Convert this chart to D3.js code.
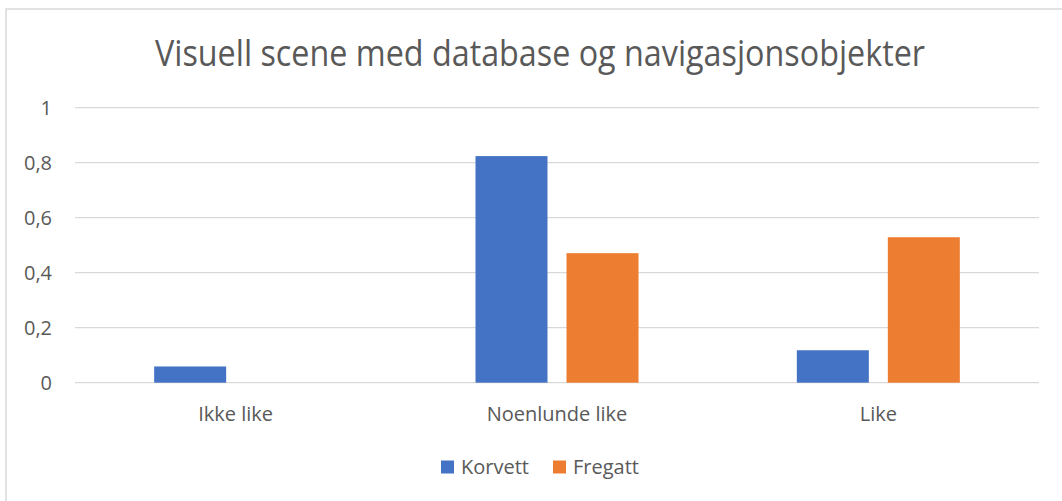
<!DOCTYPE html>
<html>
<head>
<meta charset="utf-8">
<script src="https://cdn.jsdelivr.net/npm/d3@7"></script>
<style>
  body { margin: 0; background: #fff; }
  text { font-family: "Open Sans", sans-serif; fill: #595959; }
</style>
</head>
<body>
<div id="chart"></div>
<script>
// data
const categories = ["Ikke like", "Noenlunde like", "Like"];
const seriesNames = ["Korvett", "Fregatt"];
const korvett = [0.059, 0.824, 0.118];
const fregatt = [0, 0.471, 0.529];
const yTicks = [0, 0.2, 0.4, 0.6, 0.8, 1];
const colors = ["#4472c4", "#ed7d31"];

const W = 1062, H = 501;
const margin = {top: 108, right: 23, bottom: 118, left: 75};

const svg = d3.select("#chart").append("svg")
    .attr("width", W)
    .attr("height", H);

// chart frame (runs off right/bottom like the screenshot)
svg.append("rect")
    .attr("x", 6).attr("y", 9)
    .attr("width", W + 10).attr("height", H + 10)
    .attr("fill", "none")
    .attr("stroke", "#d9d9d9")
    .attr("stroke-width", 1.5);

svg.append("text")
    .attr("x", 540).attr("y", 66)
    .attr("text-anchor", "middle")
    .attr("font-size", 36)
    .attr("textLength", 770)
    .attr("lengthAdjust", "spacingAndGlyphs")
    .text("Visuell scene med database og navigasjonsobjekter");

const plotW = W - margin.left - margin.right;
const y = d3.scaleLinear().domain([0, 1]).range([382.7, 107.7]);

const x0 = d3.scaleBand().domain(categories)
    .range([margin.left, margin.left + plotW]);
const groupPad = (x0.bandwidth() - 163) / 2;
const x1 = d3.scaleBand().domain(seriesNames)
    .range([0, 163]).paddingInner(19 / 91);

// gridlines
svg.append("g")
    .selectAll("line")
    .data(yTicks)
    .join("line")
    .attr("x1", margin.left).attr("x2", margin.left + plotW)
    .attr("y1", d => y(d)).attr("y2", d => y(d))
    .attr("stroke", "#d9d9d9")
    .attr("stroke-width", 1.3);

// y tick labels
svg.append("g")
    .selectAll("text")
    .data(yTicks)
    .join("text")
    .attr("x", 52)
    .attr("y", d => y(d) + 7)
    .attr("text-anchor", "end")
    .attr("font-size", 20)
    .text(d => String(d).replace(".", ","));

// bars
const rows = categories.map((c, i) => ({cat: c, vals: [korvett[i], fregatt[i]]}));
const groups = svg.append("g")
    .selectAll("g")
    .data(rows)
    .join("g")
    .attr("transform", d => `translate(${x0(d.cat) + groupPad},0)`);

groups.selectAll("rect")
    .data(d => d.vals.map((v, k) => ({name: seriesNames[k], v: v, k: k})))
    .join("rect")
    .filter(d => d.v > 0)
    .attr("x", d => x1(d.name))
    .attr("width", x1.bandwidth())
    .attr("y", d => y(d.v))
    .attr("height", d => y(0) - y(d.v))
    .attr("fill", d => colors[d.k]);

// category labels
svg.append("g")
    .selectAll("text")
    .data(categories)
    .join("text")
    .attr("x", d => x0(d) + x0.bandwidth() / 2)
    .attr("y", 421)
    .attr("text-anchor", "middle")
    .attr("font-size", 20)
    .text(d => d);

// legend
const legendX = [441, 553];
const legend = svg.append("g")
    .selectAll("g")
    .data(seriesNames)
    .join("g")
    .attr("transform", (d, i) => `translate(${legendX[i]},460.5)`);
legend.append("rect")
    .attr("width", 13).attr("height", 13)
    .attr("fill", (d, i) => colors[i]);
legend.append("text")
    .attr("x", 20).attr("y", 13)
    .attr("font-size", 20)
    .text(d => d);
</script>
</body>
</html>
